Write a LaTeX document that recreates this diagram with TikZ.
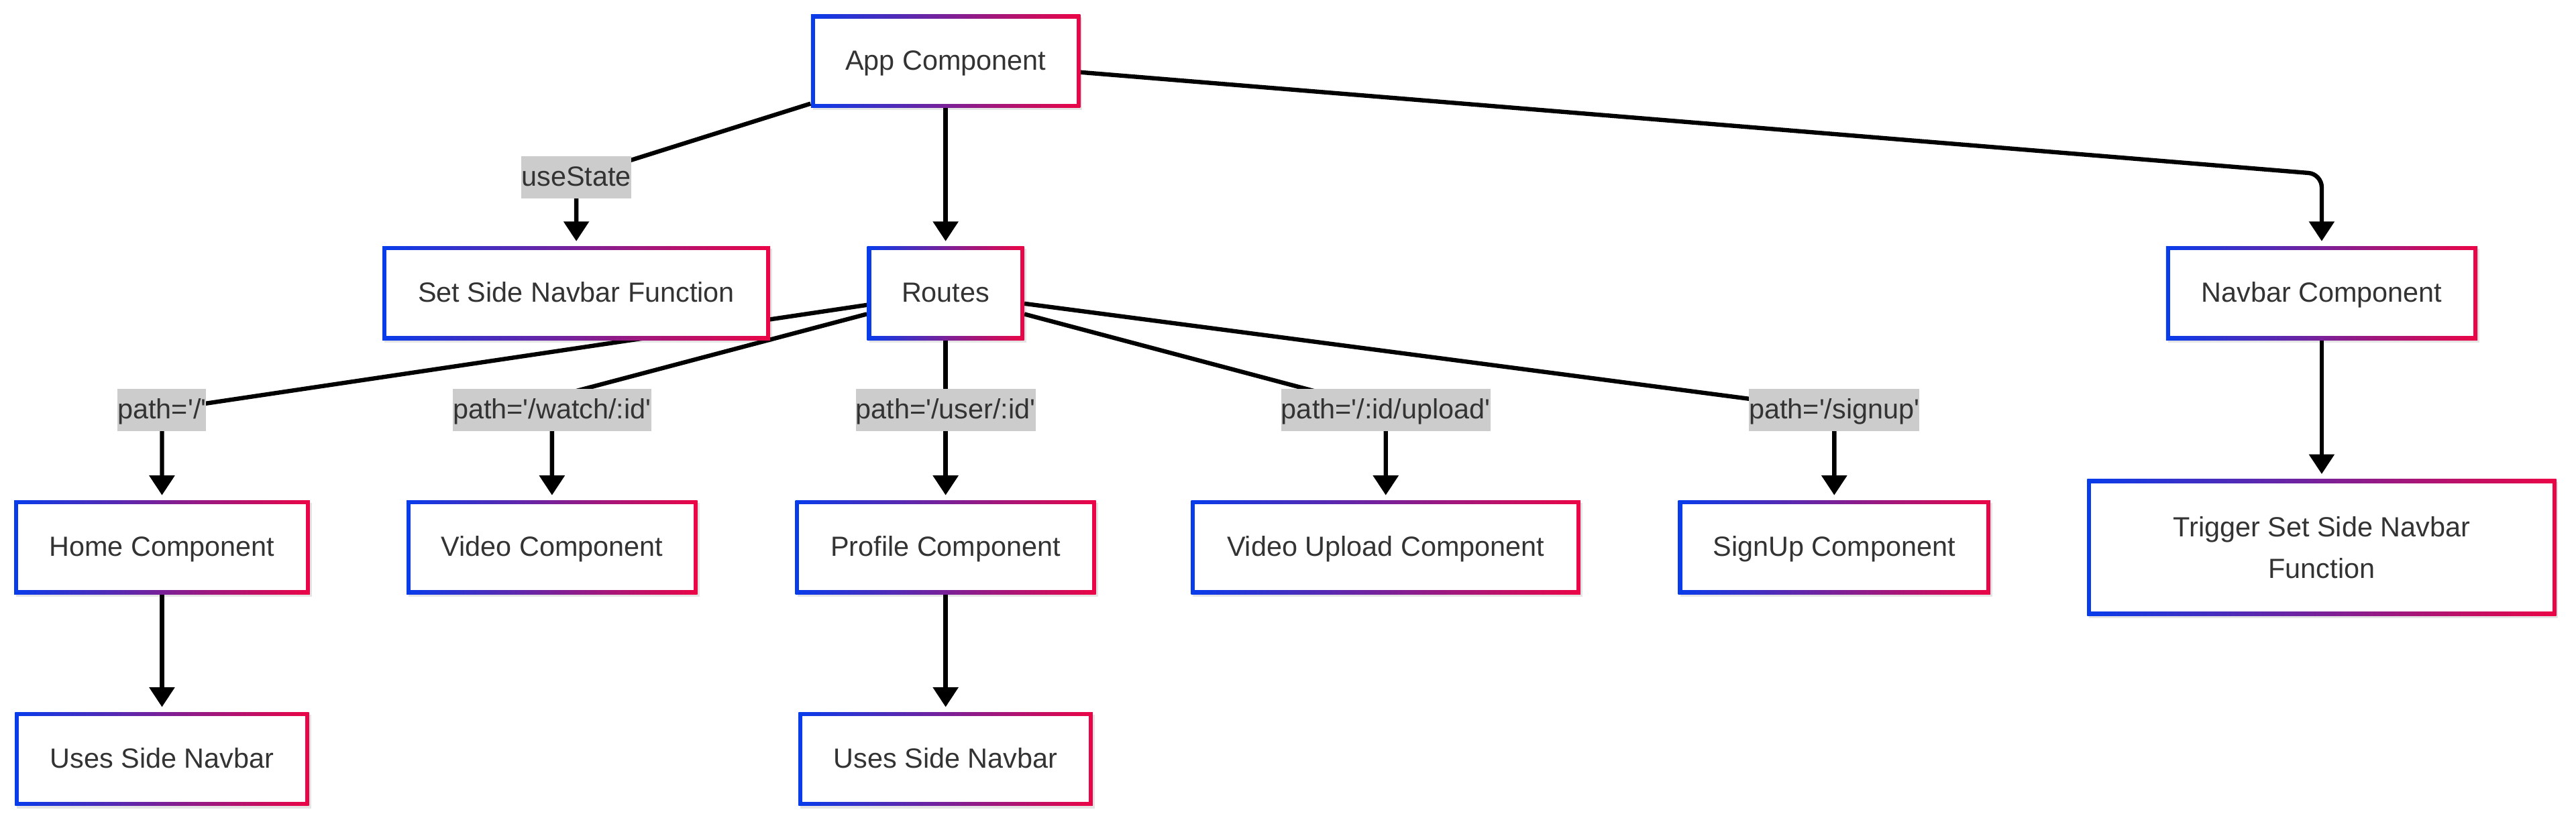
\documentclass[tikz,border=0pt]{standalone}
\usepackage{fontspec}
\setmainfont{Liberation Sans}
\usetikzlibrary{arrows.meta,shadows,backgrounds}
\definecolor{gblue}{RGB}{8,60,235}
\definecolor{gred}{RGB}{235,5,70}
\definecolor{lblgray}{RGB}{204,204,204}
\definecolor{txtc}{RGB}{51,51,51}
\newcommand{\sq}{\textquotesingle}
\begin{document}
\begin{tikzpicture}[x=1pt,y=-1pt,
  gbox/.style={inner sep=0pt, minimum height=57pt, text=txtc,
    font=\fontsize{16.9pt}{25.4pt}\selectfont, align=center,
    drop shadow={shadow xshift=1.2pt, shadow yshift=-1.5pt, opacity=0.10, fill=black},
    path picture={
      \shade[left color=gblue, right color=gred]
        (path picture bounding box.south west) rectangle (path picture bounding box.north east);
      \fill[white]
        ([xshift=2.4pt,yshift=2.4pt]path picture bounding box.south west) rectangle
        ([xshift=-2.4pt,yshift=-2.4pt]path picture bounding box.north east);
    }},
  sbox/.style={gbox, text height=13pt, text depth=2.4pt},
  lbl/.style={fill=lblgray, inner sep=0pt, minimum height=25.4pt,
    text height=13pt, text depth=2.4pt, text=txtc,
    font=\fontsize{16.9pt}{25.4pt}\selectfont},
  arr/.style={line width=2.6pt, draw=black, -{Triangle[width=15pt,length=12pt]}, shorten >=3pt}]

\useasboundingbox (0,0) rectangle (1568,500.61);

% boxes
\node[sbox, minimum width=164pt, minimum height=56.7pt] (app) at (575.6,37.3) {App Component};
\node[sbox, minimum width=236pt] (setside) at (350.8,178.6) {Set Side Navbar Function};
\node[sbox, minimum width=95.5pt] (routes) at (575.6,178.6) {Routes};
\node[sbox, minimum width=189.6pt] (navbar) at (1413.2,178.6) {Navbar Component};
\node[sbox, minimum width=180pt] (home) at (98.6,333.3) {Home Component};
\node[sbox, minimum width=177pt] (video) at (336,333.3) {Video Component};
\node[sbox, minimum width=183pt] (profile) at (575.6,333.3) {Profile Component};
\node[sbox, minimum width=237pt] (vupload) at (843.5,333.3) {Video Upload Component};
\node[sbox, minimum width=190pt] (signup) at (1116.5,333.3) {SignUp Component};
\node[gbox, minimum width=285.5pt, minimum height=83pt] (trigger) at (1413.2,333.4) {Trigger Set Side Navbar\\Function};
\node[sbox, minimum width=179pt] (uses1) at (98.6,462.3) {Uses Side Navbar};
\node[sbox, minimum width=179pt] (uses2) at (575.6,462.3) {Uses Side Navbar};

% edge labels
\node[lbl] (l0) at (350.8,108) {useState};
\node[lbl] (l1) at (98.6,249.7) {path=\sq/\sq};
\node[lbl] (l2) at (336,249.7) {path=\sq/watch/:id\sq};
\node[lbl] (l3) at (575.6,249.7) {path=\sq/user/:id\sq};
\node[lbl] (l4) at (843.5,249.7) {path=\sq/:id/upload\sq};
\node[lbl] (l5) at (1116.5,249.7) {path=\sq/signup\sq};

\coordinate (corner) at (1413.2,106);
\coordinate (via2) at (336,242);

\begin{pgfonlayer}{background}
  \fill[white] (0,0) rectangle (1568,500.61);
  \draw[arr] (app) -- (l0.center) -- (setside);
  \draw[arr] (app) -- (routes);
  \draw[arr, rounded corners=8pt] (app) -- (corner) -- (navbar);
  \draw[arr] (routes) -- (l1.center) -- (home);
  \draw[arr] (routes) -- (via2) -- (video);
  \draw[arr] (routes) -- (l3.center) -- (profile);
  \draw[arr] (routes) -- (l4.center) -- (vupload);
  \draw[arr] (routes) -- (l5.center) -- (signup);
  \draw[arr] (home) -- (uses1);
  \draw[arr] (profile) -- (uses2);
  \draw[arr] (navbar) -- (trigger);
\end{pgfonlayer}
\end{tikzpicture}
\end{document}
